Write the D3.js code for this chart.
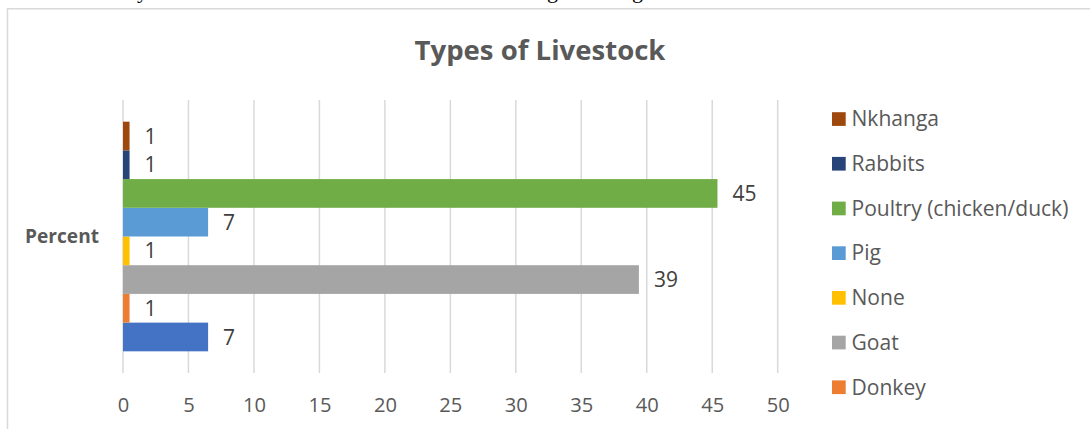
<!DOCTYPE html>
<html>
<head>
<meta charset="utf-8">
<script src="https://cdn.jsdelivr.net/npm/d3@7"></script>
<style>
  html, body { margin: 0; padding: 0; background: #ffffff; }
  svg { display: block; }
</style>
</head>
<body>
<svg id="chart" width="1090" height="429"></svg>
<script>
// ---- data ----
const title = "Types of Livestock";
const categories = ["Percent"];
// series listed from bottom bar to top bar
const seriesNames = ["Cattle", "Donkey", "Goat", "None", "Pig", "Poultry (chicken/duck)", "Rabbits", "Nkhanga"];
const seriesValues = [6.5, 0.5, 39.4, 0.5, 6.5, 45.4, 0.5, 0.5];
const seriesColors = ["#4472C4", "#ED7D31", "#A5A5A5", "#FFC000", "#5B9BD5", "#70AD47", "#264478", "#9E480E"];
const xTicks = [0, 5, 10, 15, 20, 25, 30, 35, 40, 45, 50];
const docFragments = [["y", 137], ["g", 547], ["g", 632]];

const W = 1090, H = 429;
const svg = d3.select("#chart");
const font = "'Open Sans', 'Liberation Sans', sans-serif";

// cut-off document text above the chart
svg.selectAll("text.doc").data(docFragments).join("text")
  .attr("class", "doc")
  .attr("x", d => d[1]).attr("y", -2)
  .attr("font-family", "'Liberation Serif', serif")
  .attr("font-size", 22)
  .attr("fill", "#000")
  .text(d => d[0]);

// chart frame (extends past the window right/bottom)
svg.append("rect")
  .attr("x", 7.5).attr("y", 8.75)
  .attr("width", 1200).attr("height", 600)
  .attr("fill", "#fff")
  .attr("stroke", "#D9D9D9").attr("stroke-width", 1.5);

// fit helper: scale font size so text width matches target
function fitWidth(sel, target) {
  const fs = parseFloat(sel.attr("font-size"));
  const w = sel.node().getComputedTextLength();
  return w > 0 ? fs * target / w : fs;
}

// title
const t = svg.append("text")
  .attr("x", 540).attr("y", 60)
  .attr("text-anchor", "middle")
  .attr("font-family", font).attr("font-weight", "bold")
  .attr("font-size", 26).attr("fill", "#595959")
  .text(title);
t.attr("font-size", fitWidth(t, 251));

// scales
const plotTop = 100, plotBottom = 373;
const x = d3.scaleLinear().domain([0, 50]).range([123, 777.7]);
const yCat = d3.scaleBand().domain(categories).range([plotBottom, plotTop]);
const ySer = d3.scaleBand().domain(seriesNames.slice().reverse())
  .range([0, yCat.bandwidth()]).paddingInner(0).paddingOuter(0.755);

// gridlines
svg.append("g").selectAll("line").data(xTicks).join("line")
  .attr("x1", d => x(d)).attr("x2", d => x(d))
  .attr("y1", plotTop).attr("y2", plotBottom)
  .attr("stroke", "#D9D9D9").attr("stroke-width", 1.5);

// x axis labels
const xAxis = d3.axisBottom(x).tickValues(xTicks).tickSize(0).tickPadding(0);
const gx = svg.append("g").attr("transform", `translate(0,${plotBottom})`).call(xAxis);
gx.select(".domain").remove();
gx.selectAll("text")
  .attr("dy", null).attr("y", 39)
  .attr("font-family", font).attr("font-size", 18.5).attr("fill", "#595959");
{
  const ref = gx.selectAll("text").filter(d => d === 10);
  const fs = fitWidth(ref, 23);
  gx.selectAll("text").attr("font-size", fs);
}

// category label
categories.forEach(c => {
  const pl = svg.append("text")
    .attr("x", 99).attr("y", yCat(c) + yCat.bandwidth() / 2)
    .attr("dy", "0.35em")
    .attr("text-anchor", "end")
    .attr("font-family", font).attr("font-weight", "bold")
    .attr("font-size", 17.5).attr("fill", "#595959")
    .text(c);
  pl.attr("font-size", fitWidth(pl, 74));
});

// bars
const rows = seriesNames.map((n, i) => ({ name: n, value: seriesValues[i], color: seriesColors[i], cat: categories[0] }));
svg.append("g").selectAll("rect").data(rows).join("rect")
  .attr("x", x(0))
  .attr("y", d => yCat(d.cat) + ySer(d.name))
  .attr("width", d => x(d.value) - x(0))
  .attr("height", ySer.bandwidth())
  .attr("fill", d => d.color);

// data labels
svg.append("g").selectAll("text").data(rows).join("text")
  .attr("x", d => x(d.value) + 15)
  .attr("y", d => yCat(d.cat) + ySer(d.name) + ySer.bandwidth() / 2)
  .attr("dy", "0.36em")
  .attr("font-family", font).attr("font-size", 21).attr("fill", "#404040")
  .text(d => Math.round(d.value));

// legend (top entry = top bar); only entries inside the visible area
const legendRows = rows.slice().reverse();
const lg = svg.append("g");
const legTexts = [];
legendRows.forEach((d, i) => {
  const cy = 119 + i * 44.7;
  if (cy + 7 > H) return;
  lg.append("rect")
    .attr("x", 832).attr("y", cy - 6.8)
    .attr("width", 13.7).attr("height", 13.7)
    .attr("fill", d.color);
  legTexts.push(lg.append("text")
    .attr("x", 851.5).attr("y", cy)
    .attr("dy", "0.35em")
    .attr("font-family", font).attr("font-size", 19).attr("fill", "#595959")
    .text(d.name));
});
{
  const ref = legTexts.find(s => s.text() === "Poultry (chicken/duck)");
  const fs = fitWidth(ref, 217);
  legTexts.forEach(s => s.attr("font-size", fs));
}
</script>
</body>
</html>
